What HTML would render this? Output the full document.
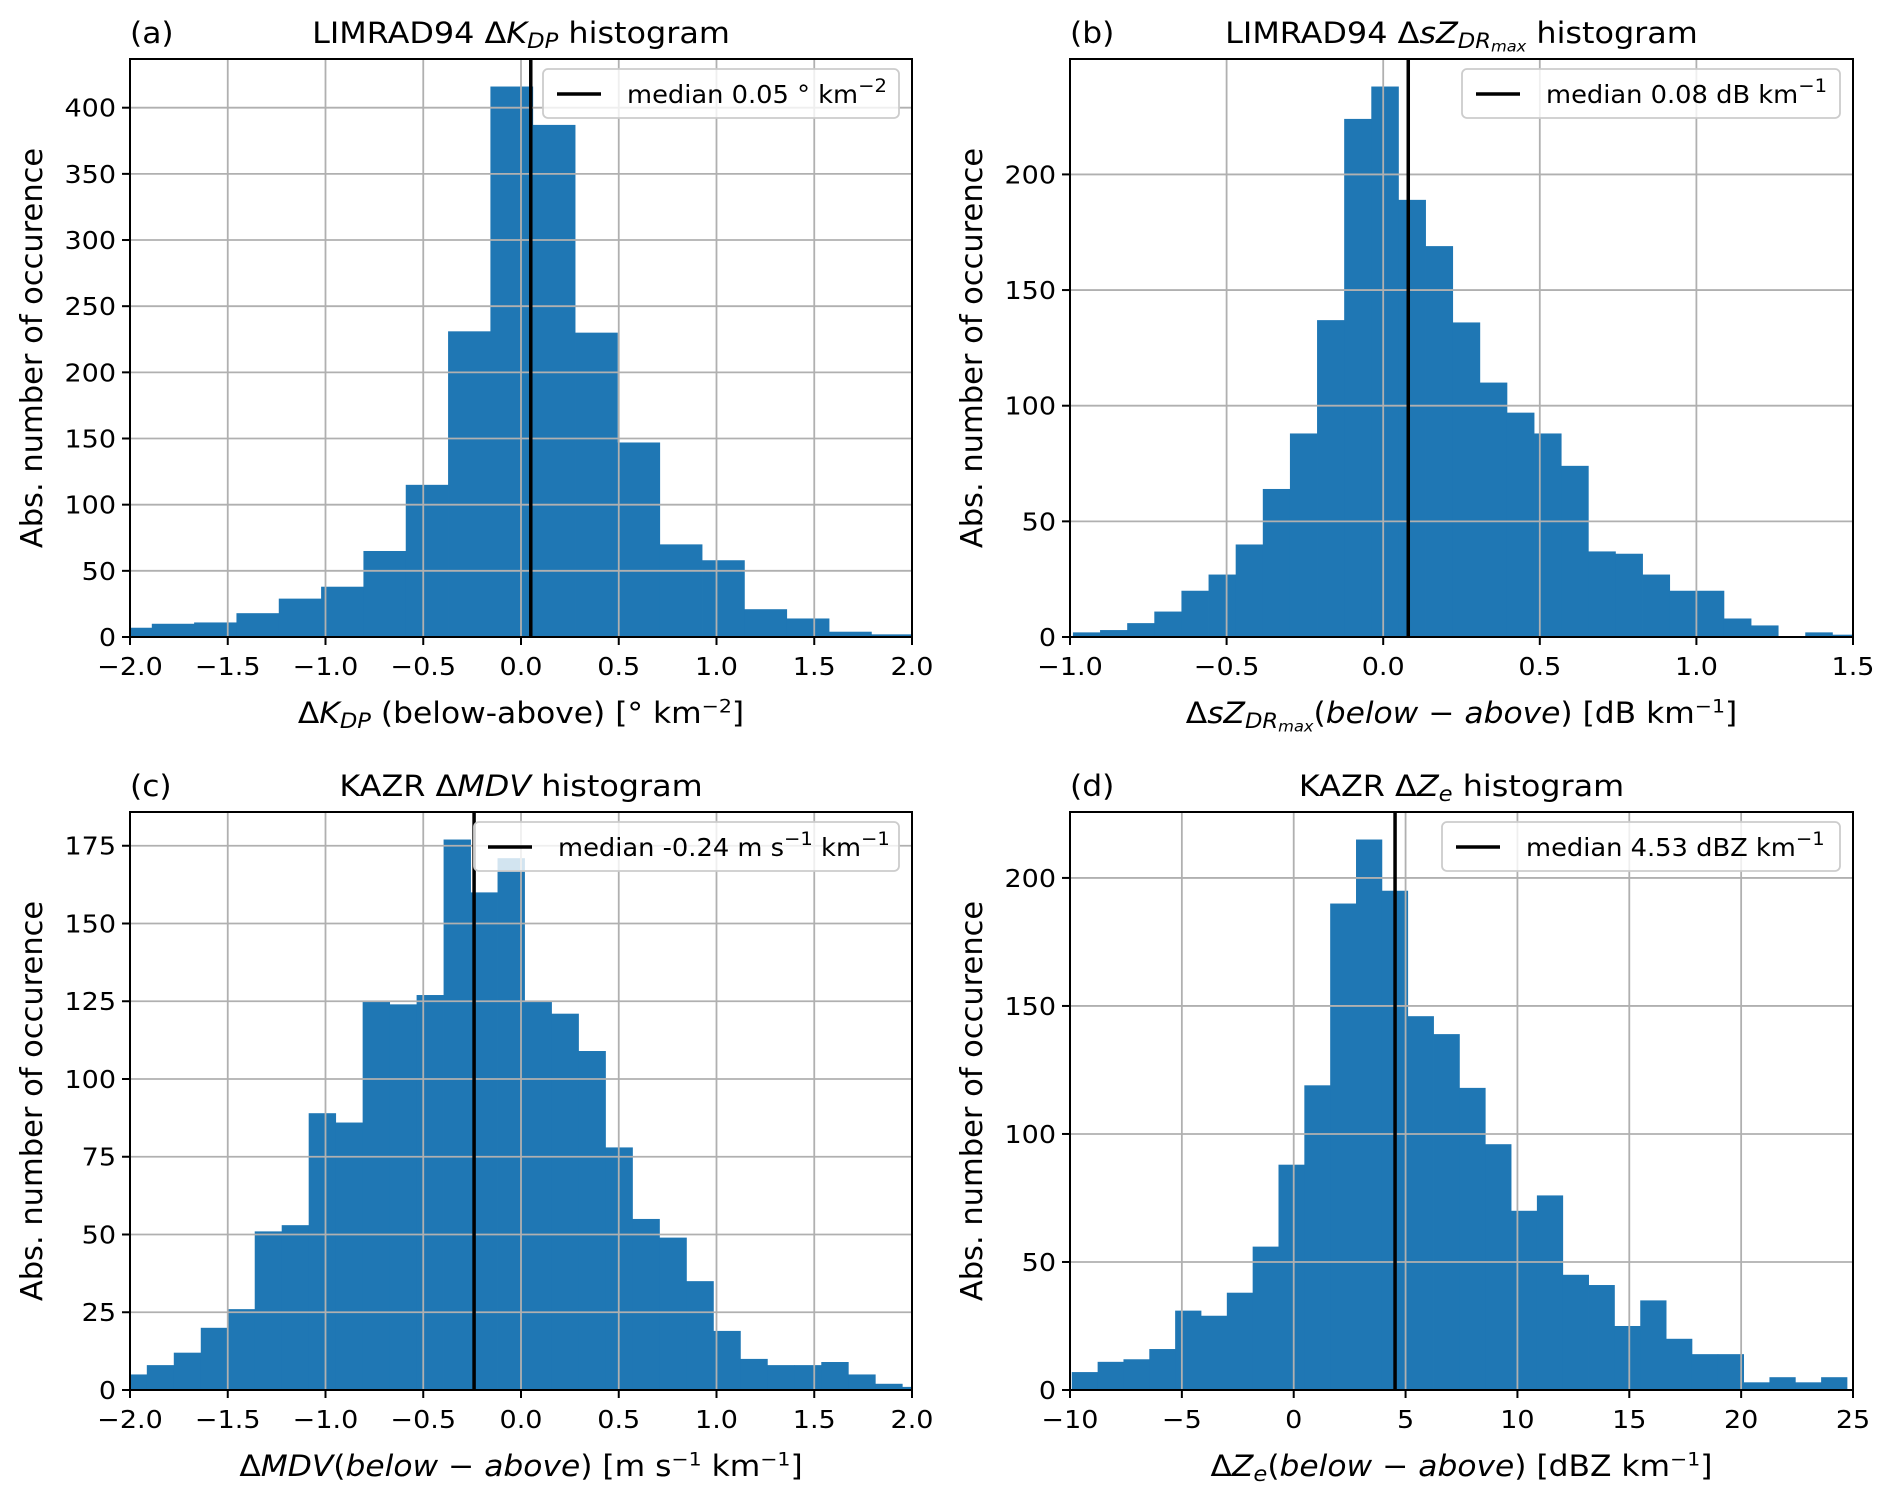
<!DOCTYPE html>
<html><head><meta charset="utf-8"><style>
html,body{margin:0;padding:0;background:#fff;}
svg{display:block;font-family:"DejaVu Sans","Liberation Sans",sans-serif;}
</style></head><body>
<svg id="fig" width="1892" height="1499" viewBox="0 0 1892 1499" xmlns="http://www.w3.org/2000/svg"></svg>
<script>
// Panel (a) LIMRAD94 dKDP
const aStart = -2.105, aWidth = 0.2165;
const aCounts = [7,10,11,18,29,38,65,115,231,416,387,230,147,70,58,21,14,4,2];
const aTicksX = [-2.0,-1.5,-1.0,-0.5,0.0,0.5,1.0,1.5,2.0];
const aTicksY = [0,50,100,150,200,250,300,350,400];
const aMedian = 0.05;
// Panel (b) LIMRAD94 dsZDRmax
const bStart = -0.9906, bWidth = 0.0866;
const bCounts = [2,3,6,11,20,27,40,64,88,137,224,238,189,169,136,110,97,88,74,37,36,27,20,20,8,5,0,2,1];
const bTicksX = [-1.0,-0.5,0.0,0.5,1.0,1.5];
const bTicksY = [0,50,100,150,200];
const bMedian = 0.08;
// Panel (c) KAZR dMDV
const cStart = -2.052, cWidth = 0.138;
const cCounts = [5,8,12,20,26,51,53,89,86,125,124,127,177,160,171,125,121,109,78,55,49,35,19,10,8,8,9,5,2,1];
const cTicksX = [-2.0,-1.5,-1.0,-0.5,0.0,0.5,1.0,1.5,2.0];
const cTicksY = [0,25,50,75,100,125,150,175];
const cMedian = -0.24;
// Panel (d) KAZR dZe
const dStart = -9.92, dWidth = 1.155;
const dCounts = [7,11,12,16,31,29,38,56,88,119,190,215,195,146,139,118,96,70,76,45,41,25,35,20,14,14,3,5,3,5];
const dTicksX = [-10,-5,0,5,10,15,20,25];
const dTicksY = [0,50,100,150,200];
const dMedian = 4.53;

const NS = "http://www.w3.org/2000/svg";
const svg = document.getElementById('fig');
function mk(tag, attrs, parent){
  const e = document.createElementNS(NS, tag);
  for (const k in attrs) e.setAttribute(k, attrs[k]);
  (parent||svg).appendChild(e);
  return e;
}
function txt(x, y, attrs, parent, sc){
  attrs.x = 0; attrs.y = 0;
  attrs.transform = 'translate('+x+','+y+') scale('+(sc||1.08)+',1)';
  return mk('text', attrs, parent);
}
function fmt(v, dec){ const s = v.toFixed(dec); return s.startsWith('-') ? '\u2212'+s.slice(1) : s; }

function panel(o){
  const g = mk('g', {});
  
  
  const L=o.x0, R=o.x1, T=o.y0, B=o.y1;
  const ymax = 1.05*Math.max(...o.counts);
  const sx = v => L + (v - o.xmin)/(o.xmax - o.xmin)*(R-L);
  const sy = v => B - v/ymax*(B-T);
  const clip = mk('clipPath', {id:'clip-'+o.id}, g);
  mk('rect', {x:L, y:T, width:R-L, height:B-T}, clip);
  const bars = mk('g', {'clip-path':'url(#clip-'+o.id+')'}, g);
  
  
  o.counts.forEach((c,i)=>{
    const a = o.start + i*o.width, b = a + o.width;
    const r = mk('rect', {x:sx(a), y:sy(c), width:sx(b)-sx(a)+0.4, height:B-sy(c), fill:'#1f77b4'}, bars);
    
    
  });
  const grid = mk('g', {stroke:'#b0b0b0','stroke-width':1.8}, g);
  
  
  o.ticksX.forEach(v=>{ mk('line',{x1:sx(v),x2:sx(v),y1:T,y2:B},grid); });
  o.ticksY.forEach(v=>{ mk('line',{x1:L,x2:R,y1:sy(v),y2:sy(v)},grid); });
  const ml = mk('line', {x1:sx(o.median), x2:sx(o.median), y1:T, y2:B, stroke:'#000','stroke-width':3.5}, g);
  
  
  const fr = mk('rect', {x:L, y:T, width:R-L, height:B-T, fill:'none', stroke:'#000','stroke-width':2}, g);
  
  
  const xt = mk('g', {}, g);
  
  
  o.ticksX.forEach(v=>{
    mk('line',{x1:sx(v),x2:sx(v),y1:B,y2:B+8,stroke:'#000','stroke-width':2},xt);
    const t = txt(sx(v), B+38, {'text-anchor':'middle','font-size':25,fill:'#000'}, xt);
    t.textContent = fmt(v, o.xdec);
  });
  const yt = mk('g', {}, g);
  
  
  o.ticksY.forEach(v=>{
    mk('line',{x1:L-8,x2:L,y1:sy(v),y2:sy(v),stroke:'#000','stroke-width':2},yt);
    const t = txt(L-14, sy(v)+9, {'text-anchor':'end','font-size':25,fill:'#000'}, yt);
    t.textContent = String(v);
  });
  const yl = mk('text',{x:0,y:0,transform:'translate('+(L-88)+','+((T+B)/2)+') rotate(-90)','text-anchor':'middle','font-size':30.5,fill:'#000'},g);
  
  
  yl.textContent = 'Abs. number of occurence';
  const xl = txt((L+R)/2, B+86, {'text-anchor':'middle','font-size':29,fill:'#000'}, g);
  
  
  xl.innerHTML = o.xlabel;
  const tl = txt((L+R)/2, T-16, {'text-anchor':'middle','font-size':29.5,fill:'#000'}, g);
  
  
  tl.innerHTML = o.title;
  const pl = txt(L, T-16, {'font-size':29,fill:'#000'}, g);
  
  
  pl.textContent = '(' + o.id + ')';
  const lg = mk('g', {}, g);
  
  
  const lx = R - 13 - o.legW, ly = T + 10;
  mk('rect',{x:lx,y:ly,width:o.legW,height:49,rx:5,fill:'#fff','fill-opacity':0.8,stroke:'#cccccc','stroke-width':1.8},lg);
  mk('line',{x1:lx+14,x2:lx+58,y1:ly+25,y2:ly+25,stroke:'#000','stroke-width':3.5},lg);
  const lt = txt(lx+84, ly+34, {'font-size':25,fill:'#000'}, lg, 1.03);
  
  
  lt.innerHTML = o.legend;
}
const sup = s => '<tspan baseline-shift="super" font-size="19">'+s+'</tspan>';
const sub = (s,fs) => '<tspan baseline-shift="-5" font-size="'+(fs||21)+'" font-style="italic">'+s+'</tspan>';
const it = s => '<tspan font-style="italic">'+s+'</tspan>';

panel({id:'a', x0:130, x1:912, y0:59, y1:637, xmin:-2, xmax:2, start:aStart, width:aWidth, counts:aCounts,
  ticksX:aTicksX, ticksY:aTicksY, median:aMedian, xdec:1, legW:356,
  title:'LIMRAD94 Δ'+it('K')+sub('DP')+'<tspan> histogram</tspan>',
  xlabel:'Δ'+it('K')+sub('DP')+'<tspan> (below-above) [° km</tspan>'+sup('−2')+'<tspan>]</tspan>',
  legend:'median 0.05 ° km'+sup('−2')});
panel({id:'b', x0:1070, x1:1853, y0:59, y1:637, xmin:-1, xmax:1.5, start:bStart, width:bWidth, counts:bCounts,
  ticksX:bTicksX, ticksY:bTicksY, median:bMedian, xdec:1, legW:378,
  title:'LIMRAD94 Δ'+it('sZ')+sub('DR')+'<tspan baseline-shift="-9" font-size="15" font-style="italic">max</tspan><tspan> histogram</tspan>',
  xlabel:'Δ'+it('sZ')+sub('DR')+'<tspan baseline-shift="-9" font-size="15" font-style="italic">max</tspan><tspan>(</tspan>'+it('below − above')+'<tspan>) [dB km</tspan>'+sup('−1')+'<tspan>]</tspan>',
  legend:'median 0.08 dB km'+sup('−1')});
panel({id:'c', x0:130, x1:912, y0:812, y1:1390, xmin:-2, xmax:2, start:cStart, width:cWidth, counts:cCounts,
  ticksX:cTicksX, ticksY:cTicksY, median:cMedian, xdec:1, legW:425,
  title:'KAZR Δ'+it('MDV')+' histogram',
  xlabel:'Δ'+it('MDV')+'(<tspan font-style="italic">below − above</tspan>) [m s'+sup('−1')+'<tspan> km</tspan>'+sup('−1')+'<tspan>]</tspan>',
  legend:'median -0.24 m s'+sup('−1')+'<tspan> km</tspan>'+sup('−1')});
panel({id:'d', x0:1070, x1:1853, y0:812, y1:1390, xmin:-10, xmax:25, start:dStart, width:dWidth, counts:dCounts,
  ticksX:dTicksX, ticksY:dTicksY, median:dMedian, xdec:0, legW:398,
  title:'KAZR Δ'+it('Z')+sub('e')+'<tspan> histogram</tspan>',
  xlabel:'Δ'+it('Z')+sub('e')+'<tspan>(</tspan>'+it('below − above')+'<tspan>) [dBZ km</tspan>'+sup('−1')+'<tspan>]</tspan>',
  legend:'median 4.53 dBZ km'+sup('−1')});
</script>
</body></html>
